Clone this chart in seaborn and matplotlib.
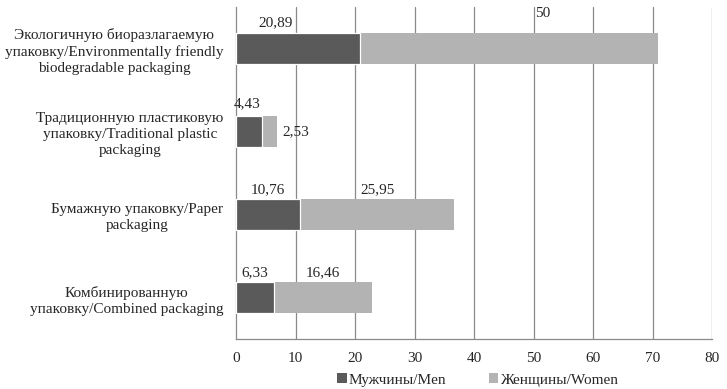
import matplotlib
matplotlib.use("Agg")
import matplotlib.pyplot as plt
import seaborn as sns
import pandas as pd
from matplotlib.patches import Patch

categories = [
    "Экологичную биоразлагаемую\nупаковку/Environmentally friendly\nbiodegradable packaging",
    "Традиционную пластиковую\nупаковку/Traditional plastic\npackaging",
    "Бумажную упаковку/Paper\npackaging",
    "Комбинированную\nупаковку/Combined packaging",
]
men = [20.89, 4.43, 10.76, 6.33]
women = [50, 2.53, 25.95, 16.46]
men_labels = ["20,89", "4,43", "10,76", "6,33"]
women_labels = ["50", "2,53", "25,95", "16,46"]
series_names = ["Мужчины/Men", "Женщины/Women"]
x_ticks = [0, 10, 20, 30, 40, 50, 60, 70, 80]

MEN_C = "#5a5a5a"
WOMEN_C = "#b3b3b3"
GRID_C = "#8a8a8a"

sns.set_style("white")
plt.rcParams["font.family"] = ["Liberation Serif", "DejaVu Serif"]
FS = 11

df = pd.DataFrame({"cat": categories, "men": men, "women": women})
df["total"] = df["men"] + df["women"]

fig = plt.figure(figsize=(7.27, 3.89), dpi=100)
ax = fig.add_axes([236 / 727, 1 - 339 / 389, (712 - 236) / 727, (339 - 7) / 389])

sns.barplot(data=df, y="cat", x="total", color=WOMEN_C, orient="h", width=0.38,
            ax=ax, saturation=1, edgecolor="none", zorder=3)
sns.barplot(data=df, y="cat", x="men", color=MEN_C, orient="h", width=0.38,
            ax=ax, saturation=1, edgecolor="white", linewidth=0.9, zorder=4)

ax.set_xlim(0, 80)
ax.set_ylim(3.5, -0.5)
ax.set_xticks(x_ticks)
ax.set_xticklabels([str(t) for t in x_ticks], fontsize=FS)
ax.set_xlabel("")
ax.set_ylabel("")
ax.set_yticks(range(len(categories)))
ax.set_yticklabels(categories, fontsize=FS, multialignment="center", linespacing=1.3)
ax.tick_params(axis="y", length=0, pad=9)
ax.set_yticks([-0.5, 0.5, 1.5, 2.5, 3.5], minor=True)
ax.tick_params(axis="y", which="minor", length=5, color=GRID_C, width=0.8)
ax.tick_params(axis="x", length=5, color=GRID_C, width=0.8, pad=4)

for x in x_ticks[1:]:
    ax.axvline(x, color=GRID_C, lw=0.9, zorder=1)

for s in ["top", "right"]:
    ax.spines[s].set_visible(False)
for s in ["left", "bottom"]:
    ax.spines[s].set_color(GRID_C)
    ax.spines[s].set_linewidth(0.9)

half = 0.38 / 2
# label adjustments in pixels (dx, dy) for readability, as in the original
men_adj = [(-23, 4), (-2, 6), (0, 3), (0, 3)]
women_adj = [(34, 13), (0, 0), (0, 3), (0, 3)]
for i in range(len(categories)):
    m, w = men[i], women[i]
    dx, dy = men_adj[i]
    ax.annotate(men_labels[i], xy=(m / 2, i - half), xytext=(dx * 0.72, dy * 0.72),
                textcoords="offset points", ha="center", va="bottom", fontsize=FS, zorder=5)
    if i == 1:
        ax.annotate(women_labels[i], xy=(m + w, i), xytext=(5 * 0.72, 0),
                    textcoords="offset points", ha="left", va="center", fontsize=FS, zorder=5)
    else:
        dx, dy = women_adj[i]
        ax.annotate(women_labels[i], xy=(m + w / 2, i - half), xytext=(dx * 0.72, dy * 0.72),
                    textcoords="offset points", ha="center", va="bottom", fontsize=FS, zorder=5)

handles = [Patch(facecolor=MEN_C, edgecolor="none"), Patch(facecolor=WOMEN_C, edgecolor="none")]
fig.legend(handles, series_names, loc="center", bbox_to_anchor=(478 / 727, 1 - 380 / 389),
           ncol=2, frameon=False, fontsize=FS, handlelength=0.6, handleheight=0.6,
           handletextpad=0.15, columnspacing=2.8)

fig.savefig("out.png", dpi=100)
